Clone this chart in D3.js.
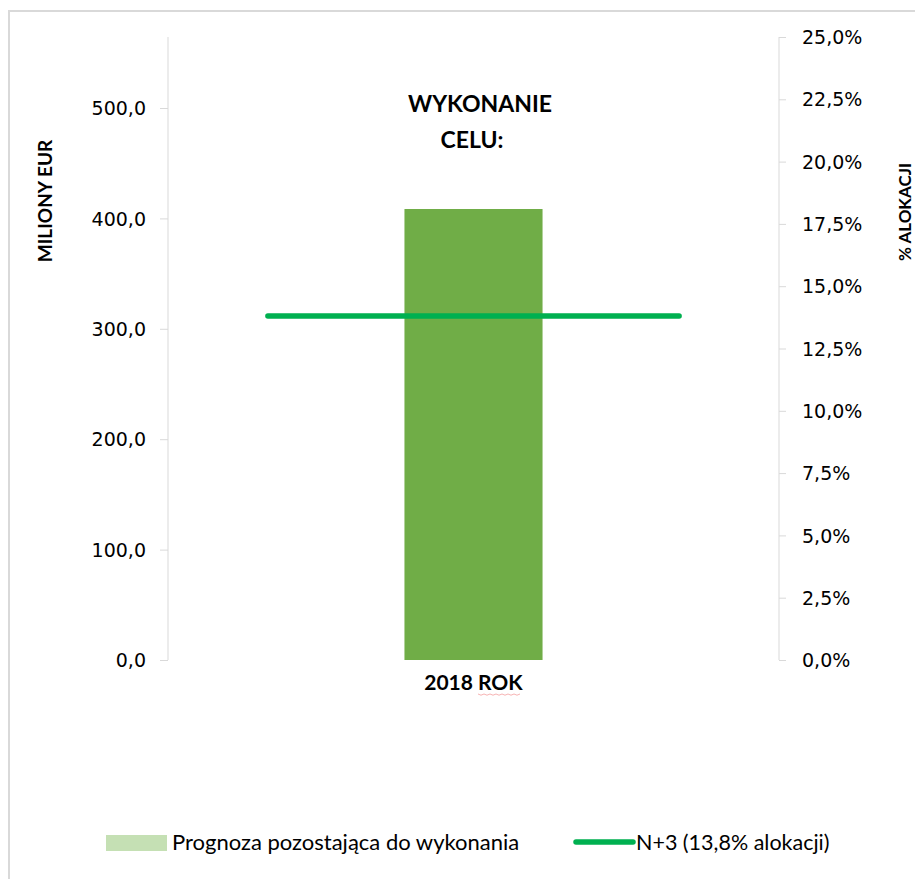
<!DOCTYPE html>
<html>
<head>
<meta charset="utf-8">
<script src="https://cdn.jsdelivr.net/npm/d3@7"></script>
<style>
  body { margin: 0; background: #fff; }
  text { font-family: "DejaVu Sans", sans-serif; }
</style>
</head>
<body>
<div id="chart"></div>
<script>
// chart data
var categories = ["2018 ROK"];
var forecastValues = [408.5];        // milliony EUR
var targetPercent = [13.8];          // % alokacji (N+3)
var leftTicks = [0, 100, 200, 300, 400, 500];
var rightTicks = [0, 2.5, 5, 7.5, 10, 12.5, 15, 17.5, 20, 22.5, 25];
var legendLabels = ["Prognoza pozostająca do wykonania", "N+3 (13,8% alokacji)"];

var width = 915, height = 879;
var plot = {left: 168, right: 779, top: 37, bottom: 660};

var svg = d3.select("#chart").append("svg")
  .attr("width", width)
  .attr("height", height);

// outer frame
svg.append("rect")
  .attr("x", 9).attr("y", 11)
  .attr("width", 940).attr("height", 900)
  .attr("fill", "none")
  .attr("stroke", "#d9d9d9")
  .attr("stroke-width", 2);

var yLeft = d3.scaleLinear().domain([0, 564.3]).range([plot.bottom, plot.top]);
var yRight = d3.scaleLinear().domain([0, 25]).range([plot.bottom, plot.top]);
var xScale = d3.scaleBand().domain(categories).range([plot.left, plot.right]);

var fmt1 = function(d) { return d3.format(".1f")(d).replace(".", ","); };

// left axis
var gl = svg.append("g")
  .attr("transform", "translate(" + plot.left + ",0)")
  .call(d3.axisLeft(yLeft).tickValues(leftTicks).tickSize(8).tickPadding(14).tickFormat(fmt1));
gl.select(".domain").attr("stroke", "#d9d9d9").attr("d", "M0," + plot.top + "V" + plot.bottom);
gl.selectAll(".tick line").attr("stroke", "#d9d9d9");
gl.selectAll(".tick text").style("font-size", "19px").attr("fill", "#000").attr("dy", "0.35em");

// right axis
var gr = svg.append("g")
  .attr("transform", "translate(" + plot.right + ",0)")
  .call(d3.axisRight(yRight).tickValues(rightTicks).tickSize(7).tickPadding(16)
    .tickFormat(function(d) { return fmt1(d) + "%"; }));
gr.select(".domain").attr("stroke", "#d9d9d9").attr("d", "M0," + plot.top + "V" + plot.bottom);
gr.selectAll(".tick line").attr("stroke", "#d9d9d9");
gr.selectAll(".tick text").style("font-size", "19px").attr("fill", "#000").attr("dy", "0.35em");

// bars
var barW = xScale.bandwidth() * 0.226;
svg.selectAll(".bar")
  .data(forecastValues)
  .enter().append("rect")
  .attr("class", "bar")
  .attr("x", function(d, i) { return xScale(categories[i]) + xScale.bandwidth() / 2 - barW / 2; })
  .attr("y", function(d) { return yLeft(d); })
  .attr("width", barW)
  .attr("height", function(d) { return plot.bottom - yLeft(d); })
  .attr("fill", "#70ad47");

// N+3 line
var lineW = xScale.bandwidth() * 0.673;
svg.selectAll(".target")
  .data(targetPercent)
  .enter().append("line")
  .attr("class", "target")
  .attr("x1", function(d, i) { return xScale(categories[i]) + xScale.bandwidth() / 2 - lineW / 2; })
  .attr("x2", function(d, i) { return xScale(categories[i]) + xScale.bandwidth() / 2 + lineW / 2; })
  .attr("y1", function(d) { return yRight(d); })
  .attr("y2", function(d) { return yRight(d); })
  .attr("stroke", "#00b050")
  .attr("stroke-width", 5.5)
  .attr("stroke-linecap", "round");

// category label
var cx = xScale(categories[0]) + xScale.bandwidth() / 2;
svg.append("text")
  .attr("x", cx).attr("y", 690)
  .attr("text-anchor", "middle")
  .style("font-family", "Lato, sans-serif")
  .style("font-size", "21px").style("font-weight", "bold")
  .text(categories[0]);
// spell-check squiggle under "ROK"
svg.append("path")
  .attr("d", d3.range(0, 15).map(function(i) {
    return (i ? "L" : "M") + (478 + i * 3) + "," + (694 + (i % 2 ? 1.2 : 0));
  }).join(""))
  .attr("fill", "none").attr("stroke", "#f4a0a0").attr("stroke-width", 0.8);

// title
var title = svg.append("text")
  .attr("text-anchor", "middle")
  .style("font-family", "Lato, sans-serif")
  .style("font-size", "23px").style("font-weight", "bold");
title.append("tspan").attr("x", 480).attr("y", 112).text("WYKONANIE");
title.append("tspan").attr("x", 472).attr("y", 148).text("CELU:");

// axis titles
svg.append("text")
  .attr("transform", "translate(52,201) rotate(-90)")
  .attr("text-anchor", "middle")
  .style("font-family", "Lato, sans-serif")
  .style("font-size", "19px").style("font-weight", "bold")
  .text("MILIONY EUR");
svg.append("text")
  .attr("transform", "translate(911,212) rotate(-90)")
  .attr("text-anchor", "middle")
  .style("font-family", "Lato, sans-serif")
  .style("font-size", "17px").style("font-weight", "bold")
  .text("% ALOKACJI");

// legend
var lg = svg.append("g");
lg.append("rect")
  .attr("x", 106).attr("y", 835).attr("width", 61).attr("height", 16)
  .attr("fill", "#c5e0b4");
lg.append("text")
  .attr("x", 172).attr("y", 850)
  .style("font-family", "Lato, sans-serif")
  .style("font-size", "22px")
  .text(legendLabels[0]);
lg.append("line")
  .attr("x1", 576).attr("x2", 633).attr("y1", 842).attr("y2", 842)
  .attr("stroke", "#00b050").attr("stroke-width", 5.5).attr("stroke-linecap", "round");
lg.append("text")
  .attr("x", 636).attr("y", 850)
  .style("font-family", "Lato, sans-serif")
  .style("font-size", "21.5px")
  .text(legendLabels[1]);
</script>
</body>
</html>
